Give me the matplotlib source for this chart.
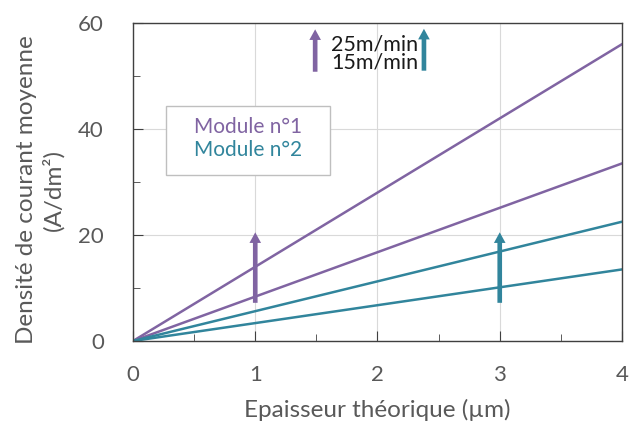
import matplotlib
matplotlib.use("Agg")
import matplotlib.pyplot as plt
from matplotlib.patches import FancyArrow, Rectangle

plt.rcParams['font.family'] = ['Lato', 'DejaVu Sans']

# Data
thickness = [0, 4]
mod1_25 = [0, 56.0]
mod1_15 = [0, 33.5]
mod2_25 = [0, 22.5]
mod2_15 = [0, 13.5]

purple = '#8064A2'
teal = '#31859C'
gray_txt = '#595959'

fig = plt.figure(figsize=(6.31, 4.24), dpi=100)
ax = fig.add_axes([0.2108, 0.1958, 0.7749, 0.75])

ax.plot(thickness, mod1_25, color=purple, lw=1.8)
ax.plot(thickness, mod1_15, color=purple, lw=1.8)
ax.plot(thickness, mod2_25, color=teal, lw=1.8)
ax.plot(thickness, mod2_15, color=teal, lw=1.8)

ax.set_xlim(0, 4)
ax.set_ylim(0, 60)
ax.set_xticks([0, 1, 2, 3, 4])
ax.set_xticks([0.5, 1.5, 2.5, 3.5], minor=True)
ax.set_yticks([0, 20, 40, 60])
ax.set_yticks([10, 30, 50], minor=True)
ax.tick_params(axis='both', which='both', direction='in', colors='#404040',
               labelcolor=gray_txt, labelsize=16)
ax.tick_params(axis='both', which='major', length=7)
ax.tick_params(axis='both', which='minor', length=5)
ax.tick_params(axis='x', pad=17)
ax.tick_params(axis='y', pad=21)
ax.grid(True, which='major', color='#D9D9D9', lw=0.8)
ax.set_axisbelow(True)
for s in ax.spines.values():
    s.set_color('#404040')
    s.set_linewidth(1.0)

ax.set_xlabel('Epaisseur théorique (µm)', fontsize=17.5, color=gray_txt, labelpad=10)
fig.text(40 / 631, 1 - 190 / 424, 'Densité de courant moyenne\n(A/dm²)',
         rotation=90, ha='center', va='center', fontsize=17.5, color=gray_txt,
         linespacing=1.3, multialignment='center')

# Arrows (annotations)
arrow_x = [1, 3, 1.49, 2.38]
arrow_y0 = [7.2, 7.2, 50.8, 51.0]
arrow_y1 = [20.5, 20.5, 58.8, 58.9]
arrow_c = [purple, teal, purple, teal]
for xa, y0, y1, c in zip(arrow_x, arrow_y0, arrow_y1, arrow_c):
    ax.add_patch(FancyArrow(xa, y0, 0, y1 - y0, width=0.038, head_width=0.095,
                            head_length=2.0, length_includes_head=True,
                            color=c, lw=0))

ax.text(1.62, 54.2, '25m/min\n15m/min', fontsize=15.5, color='#1a1a1a',
        va='center', ha='left', linespacing=0.85)

# Legend box
ax.add_patch(Rectangle((0.27, 31.3), 1.34, 13.0, facecolor='white',
                       edgecolor='#BFBFBF', lw=1.0, zorder=3))
ax.text(0.5, 40.4, 'Module n°1', fontsize=15, color=purple, va='center', zorder=4)
ax.text(0.5, 36.0, 'Module n°2', fontsize=15, color=teal, va='center', zorder=4)

fig.savefig('out.png', dpi=100)
